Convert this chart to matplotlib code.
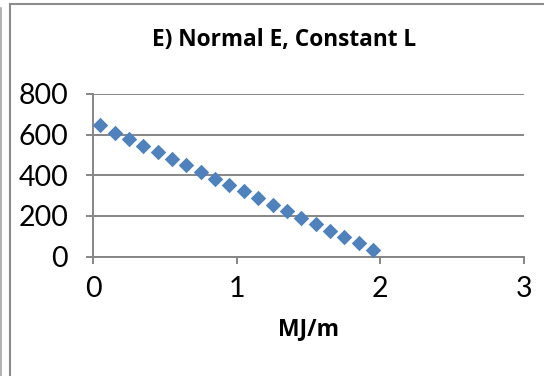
import numpy as np
import matplotlib.pyplot as plt
from matplotlib.lines import Line2D

# Data
energy = [0.05, 0.15, 0.25, 0.35, 0.45, 0.55, 0.65, 0.75, 0.85, 0.95,
          1.05, 1.15, 1.25, 1.35, 1.45, 1.55, 1.65, 1.75, 1.85, 1.95]
values = [645, 609, 578, 546, 514, 482, 449, 416, 384, 352,
          321, 287, 255, 223, 191, 158, 128, 96, 65, 33]
x_ticks = [0, 1, 2, 3]
y_ticks = [0, 200, 400, 600, 800]

plt.rcParams['font.family'] = ['Lato', 'DejaVu Sans']
bold_font = ['Open Sans', 'DejaVu Sans']

W, H = 544, 376
fig = plt.figure(figsize=(W / 100, H / 100), dpi=100)
ax = fig.add_axes([93 / W, 1 - 256.5 / H, (524 - 93) / W, (256.5 - 94) / H])

grey = '#868686'
ax.scatter(energy, values, marker='D', s=62, color='#4F81BD', zorder=3, linewidths=0)

ax.set_xlim(0, 3)
ax.set_ylim(0, 800)
ax.set_xticks(x_ticks)
ax.set_yticks(y_ticks)
ax.grid(axis='y', color=grey, linewidth=1.4)
ax.set_axisbelow(True)
for side in ['top', 'right']:
    ax.spines[side].set_visible(False)
for side in ['left', 'bottom']:
    ax.spines[side].set_color(grey)
    ax.spines[side].set_linewidth(1.4)
ax.tick_params(colors=grey, width=1.4, length=5, labelsize=20.5, labelcolor='black')
ax.tick_params(axis='x', pad=9)
ax.tick_params(axis='y', pad=13)

ax.set_xlabel('MJ/m', fontsize=16.5, fontweight='bold', family=bold_font, labelpad=11)
fig.text(284 / W, 1 - 40 / H, 'E) Normal E, Constant L', fontsize=16.3,
         fontweight='bold', family=bold_font, ha='center', va='center')

# outer frame lines (Excel chart border)
fig.add_artist(Line2D([1 / W, 1 / W], [0, 1 - 8 / H], color='#a6a6a6', linewidth=1.2))
fig.add_artist(Line2D([10 / W, 10 / W], [0, 1 - 4 / H], color='#8c8c8c', linewidth=1.5))
fig.add_artist(Line2D([10 / W, 1], [1 - 4 / H, 1 - 4 / H], color='#8c8c8c', linewidth=1.5))

fig.savefig('out.png', dpi=100)
